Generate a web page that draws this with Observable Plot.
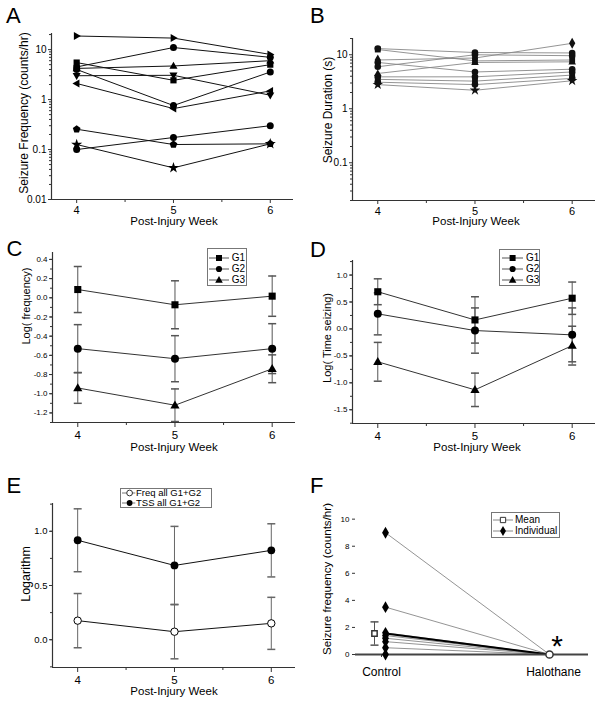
<!DOCTYPE html>
<html><head><meta charset="utf-8">
<script src="https://cdn.jsdelivr.net/npm/d3@7"></script>
<script src="https://cdn.jsdelivr.net/npm/@observablehq/plot@0.6"></script>
<style>
html,body{margin:0;padding:0;background:#fff;}
#fig{position:relative;width:602px;height:704px;overflow:hidden;font-family:"Liberation Sans",Arial,sans-serif;color:#000;}
.panel{position:absolute;}
.letter{position:absolute;font-size:22px;line-height:22px;}
.lab{position:absolute;white-space:nowrap;line-height:1;transform:translate(-50%,-50%);}
.ylab{transform:translate(-50%,-50%) rotate(-90deg);}
.ltxt{position:absolute;white-space:nowrap;line-height:1;transform:translateY(-50%);}
.legend{position:absolute;border:1px solid #777;background:#fff;box-sizing:border-box;}
</style></head><body><div id="fig"></div>
<script>
// ---------------- DATA ----------------
const weeks = [4, 5, 6];
const weekMinorTicks = [4.5, 5.5];

// Panel A: seizure frequency (counts/hr), individual animals, weeks 4-6
const freqIndividual = [
  [18.7, 17, 8],
  [4.5, 11, 7],
  [4.2, 4.7, 6],
  [3.0, 3.06, 1.22],
  [5.5, 2.43, 5.0],
  [4.0, 0.76, 3.56],
  [2.1, 0.66, 1.49],
  [0.255, 0.126, 0.13],
  [0.1, 0.174, 0.3],
  [0.126, 0.043, 0.13]
];
const aYTicks = [0.01, 0.1, 1, 10];

// Panel B: seizure duration (s), individual animals
const durIndividual = [
  [13, 11, 10.8],
  [12.5, 7.7, 8],
  [8, 8.7, 16.3],
  [7.2, 4.8, 5.4],
  [6.0, 10, 9.6],
  [4.5, 7.2, 7.4],
  [3.9, 3.9, 4.8],
  [3.5, 3.25, 4.2],
  [3.1, 2.8, 3.65],
  [2.8, 2.2, 3.3]
];
const bYTicks = [0.1, 1, 10];

// Panel C: log(frequency) by group, mean and error
const groups = ["G1", "G2", "G3"];
const logFreqMean = [[0.086, -0.073, 0.017], [-0.53, -0.635, -0.53], [-0.94, -1.12, -0.74]];
const logFreqErr  = [[0.24, 0.25, 0.21], [0.25, 0.24, 0.26], [0.16, 0.17, 0.145]];
const cYTicks = [-1.2, -1.0, -0.8, -0.6, -0.4, -0.2, 0.0, 0.2, 0.4];

// Panel D: log(time seizing) by group
const logTimeMean = [[0.69, 0.167, 0.57], [0.28, -0.03, -0.11], [-0.61, -1.13, -0.31]];
const logTimeErr  = [[0.24, 0.43, 0.30], [0.39, 0.42, 0.50], [0.36, 0.31, 0.36]];
const dYTicks = [-1.5, -1.0, -0.5, 0.0, 0.5, 1.0];

// Panel E: logarithm, all G1+G2
const eSeries = ["Freq all G1+G2", "TSS all G1+G2"];
const eMean = [[0.176, 0.074, 0.151], [0.917, 0.685, 0.824]];
const eErr  = [[0.25, 0.25, 0.24], [0.29, 0.36, 0.245]];
const eYTicks = [0.0, 0.5, 1.0];

// Panel F: control vs halothane
const conditions = ["Control", "Halothane"];
const controlIndividual = [9, 3.5, 1.6, 1.4, 1.2, 0.95, 0.5, 0];
const halothaneIndividual = [0, 0, 0, 0, 0, 0, 0, 0];
const meanFreq = [1.55, 0];
const meanErr = [0.86, 0];
const fYTicks = [0, 2, 4, 6, 8, 10];
const fLegend = ["Mean", "Individual"];

// ---------------- STYLE / HELPERS ----------------
const FONT = '"Liberation Sans", Arial, sans-serif';
const STYLE = {fontFamily: FONT, background: "transparent", overflow: "visible", color: "#000"};
const AX = "#333";
const fig = document.getElementById("fig");

function polySymbol(points) {
  return {draw(ctx, size) {
    const r = Math.sqrt(size / Math.PI);
    points.forEach(([px, py], i) => i ? ctx.lineTo(px * r, py * r) : ctx.moveTo(px * r, py * r));
    ctx.closePath();
  }};
}
const triRight = polySymbol([[1.2, 0], [-0.8, -1.15], [-0.8, 1.15]]);
const triLeft = polySymbol([[-1.2, 0], [0.8, -1.15], [0.8, 1.15]]);
const triDown = polySymbol([[0, 1.2], [-1.15, -0.8], [1.15, -0.8]]);
const triUp = polySymbol([[0, -1.2], [-1.15, 0.8], [1.15, 0.8]]);
const pentagon = polySymbol([0, 1, 2, 3, 4].map(i => [Math.sin(i * 2 * Math.PI / 5) * 1.15, -Math.cos(i * 2 * Math.PI / 5) * 1.15]));
const capSym = {draw(ctx, size) { const r = Math.sqrt(size / Math.PI); ctx.moveTo(-r, 0); ctx.lineTo(r, 0); }};

function addPlot(plot, left, top) {
  const d = document.createElement("div");
  d.className = "panel"; d.style.left = left + "px"; d.style.top = top + "px";
  d.appendChild(plot); fig.appendChild(d);
}
function addText(text, cx, cy, size, cls = "lab") {
  const d = document.createElement("div");
  d.className = cls; d.textContent = text;
  d.style.left = cx + "px"; d.style.top = cy + "px"; d.style.fontSize = size + "px";
  fig.appendChild(d); return d;
}
function addLetter(t, left, top) {
  const d = document.createElement("div");
  d.className = "letter"; d.textContent = t;
  d.style.left = left + "px"; d.style.top = top + "px"; fig.appendChild(d);
}
function legendBox(box, rows, o) {
  const div = document.createElement("div");
  div.className = "legend";
  Object.assign(div.style, {left: box.x + "px", top: box.y + "px", width: box.w + "px", height: box.h + "px"});
  fig.appendChild(div);
  rows.forEach(r => {
    const w = o.x2 - o.x1;
    const svg = d3.create("svg").attr("width", w + 10).attr("height", 14)
      .style("position", "absolute").style("left", (o.x1 - 5) + "px").style("top", (r.y - 7) + "px").style("overflow", "visible");
    svg.append("line").attr("x1", 5).attr("x2", w + 5).attr("y1", 7).attr("y2", 7).attr("stroke", r.line).attr("stroke-width", 1);
    svg.append("path").attr("d", d3.symbol(r.symbol, r.size)()).attr("transform", `translate(${o.xm - o.x1 + 5},7)`)
      .attr("fill", r.fill).attr("stroke", r.stroke);
    fig.appendChild(svg.node());
    addText(r.label, o.xt, r.y, o.fs, "ltxt");
  });
}

function weekAxes(xDomain, yDomain, yTicks, yMinor, yFmt, yFont, xFont, xTick, xPad) {
  return [
    Plot.axisY({ticks: yMinor, tickSize: 2, tickFormat: () => "", stroke: AX, label: null}),
    Plot.axisY({ticks: yTicks, tickSize: 3, tickPadding: 2, tickFormat: yFmt, fontSize: yFont, stroke: AX, label: null}),
    Plot.axisX({ticks: weekMinorTicks, tickSize: 3, tickFormat: () => "", stroke: AX, label: null}),
    Plot.axisX({ticks: weeks, tickSize: xTick, tickPadding: xPad, tickFormat: d => String(d), fontSize: xFont, stroke: AX, label: null}),
    Plot.ruleX([xDomain[0]], {stroke: AX, strokeWidth: 1.2}),
    Plot.ruleY([yDomain[0]], {stroke: AX, strokeWidth: 1.2})
  ];
}
function logMinor(domain) {
  const out = [];
  for (let e = -3; e <= 2; e++) for (let m = 2; m <= 9; m++) {
    const v = m * Math.pow(10, e);
    if (v >= domain[0] && v <= domain[1]) out.push(v);
  }
  return out;
}
function stepMinor(domain, step) {
  const out = [];
  for (let v = Math.ceil(domain[0] / step) * step; v <= domain[1] + 1e-9; v += step) out.push(+v.toFixed(4));
  return out;
}

// ---------------- PANEL A ----------------
const aSymbols = [triRight, d3.symbolCircle, triUp, triDown, d3.symbolSquare, d3.symbolCircle, triLeft, pentagon, d3.symbolCircle, d3.symbolStar];
const aRows = freqIndividual.flatMap((vals, s) => vals.map((v, j) => ({series: s, week: weeks[j], value: v})));
const aX = [3.74, 6.24], aY = [0.01, 21];
addPlot(Plot.plot({
  width: 300, height: 235, marginLeft: 51, marginRight: 7, marginTop: 33, marginBottom: 36,
  style: STYLE, x: {domain: aX}, y: {type: "log", domain: aY},
  marks: [
    Plot.line(aRows, {x: "week", y: "value", z: "series", stroke: "#111", strokeWidth: 1}),
    ...aSymbols.map((sy, s) => Plot.dot(aRows.filter(d => d.series === s), {x: "week", y: "value", symbol: sy, r: 3.5, fill: "#000", stroke: "none"})),
    ...weekAxes(aX, aY, aYTicks, logMinor(aY), d => String(d), 10, 11, 4, 2.5)
  ]
}), 0, 0);

// ---------------- PANEL B ----------------
const bSymbols = [d3.symbolCircle, d3.symbolSquare, d3.symbolDiamond, d3.symbolCircle, d3.symbolCircle, triUp, d3.symbolCircle, d3.symbolSquare, d3.symbolCircle, d3.symbolStar];
const bRows = durIndividual.flatMap((vals, s) => vals.map((v, j) => ({series: s, week: weeks[j], value: v})));
const bX = [3.74, 6.24], bY = [0.02, 20];
addPlot(Plot.plot({
  width: 302, height: 235, marginLeft: 52, marginRight: 7, marginTop: 38, marginBottom: 35,
  style: STYLE, x: {domain: bX}, y: {type: "log", domain: bY},
  marks: [
    Plot.line(bRows, {x: "week", y: "value", z: "series", stroke: "#888", strokeWidth: 0.9}),
    ...bSymbols.map((sy, s) => Plot.dot(bRows.filter(d => d.series === s), {x: "week", y: "value", symbol: sy, r: 3.3, fill: "#111", stroke: "none"})),
    ...weekAxes(bX, bY, bYTicks, logMinor(bY), d => String(d), 10, 11, 4, 2.5)
  ]
}), 300, 0);

// ---------------- PANELS C, D (group means) ----------------
const groupSymbols = [d3.symbolSquare, d3.symbolCircle, triUp];
function groupPanel(means, errs, xDom, yDom, yTicks, minorStep) {
  const rows = groups.flatMap((g, i) => weeks.map((w, j) => ({group: g, gi: i, week: w, mean: means[i][j], err: errs[i][j]})));
  return Plot.plot({
    width: 300, height: 235, marginLeft: 52, marginRight: 5, marginTop: yDom.mt, marginBottom: yDom.mb,
    style: STYLE, x: {domain: xDom}, y: {domain: yDom.d},
    marks: [
      Plot.ruleX(rows, {x: "week", y1: d => d.mean - d.err, y2: d => d.mean + d.err, stroke: "#555", strokeWidth: 1}),
      Plot.dot(rows, {x: "week", y: d => d.mean + d.err, symbol: capSym, r: 4, fill: "none", stroke: "#555"}),
      Plot.dot(rows, {x: "week", y: d => d.mean - d.err, symbol: capSym, r: 4, fill: "none", stroke: "#555"}),
      Plot.line(rows, {x: "week", y: "mean", z: "group", stroke: "#333", strokeWidth: 1}),
      ...groupSymbols.map((sy, i) => Plot.dot(rows.filter(d => d.gi === i), {x: "week", y: "mean", symbol: sy, r: 4, fill: "#000", stroke: "none"})),
      ...weekAxes(xDom, yDom.d, yTicks, stepMinor(yDom.d, minorStep), d => d.toFixed(1), 8, 11.5, 5, 3)
    ]
  });
}
addPlot(groupPanel(logFreqMean, logFreqErr, [3.74, 6.24], {d: [-1.3, 0.472], mt: 17, mb: 48}, cYTicks, 0.1), 0, 235);
addPlot(groupPanel(logTimeMean, logTimeErr, [3.74, 6.24], {d: [-1.755, 1.27], mt: 25, mb: 47}, dYTicks, 0.25), 300, 235);

// ---------------- PANEL E ----------------
const eRows = eSeries.flatMap((s, i) => weeks.map((w, j) => ({series: s, si: i, week: w, mean: eMean[i][j], err: eErr[i][j]})));
const eX = [3.74, 6.25], eY = [-0.256, 1.256];
addPlot(Plot.plot({
  width: 300, height: 234, marginLeft: 52, marginRight: 5, marginTop: 33, marginBottom: 37,
  style: STYLE, x: {domain: eX}, y: {domain: eY},
  marks: [
    Plot.ruleX(eRows, {x: "week", y1: d => d.mean - d.err, y2: d => d.mean + d.err, stroke: "#666", strokeWidth: 1}),
    Plot.dot(eRows, {x: "week", y: d => d.mean + d.err, symbol: capSym, r: 4, fill: "none", stroke: "#666"}),
    Plot.dot(eRows, {x: "week", y: d => d.mean - d.err, symbol: capSym, r: 4, fill: "none", stroke: "#666"}),
    Plot.line(eRows, {x: "week", y: "mean", z: "series", stroke: "#111", strokeWidth: 1}),
    Plot.dot(eRows.filter(d => d.si === 0), {x: "week", y: "mean", r: 3.7, fill: "#fff", stroke: "#000", strokeWidth: 1}),
    Plot.dot(eRows.filter(d => d.si === 1), {x: "week", y: "mean", r: 3.9, fill: "#000", stroke: "none"}),
    ...weekAxes(eX, eY, eYTicks, stepMinor(eY, 0.25), d => d.toFixed(1), 9.5, 11.5, 5, 3)
  ]
}), 0, 470);

// ---------------- PANEL F ----------------
const fRows = controlIndividual.map((v, i) => ({id: i, control: v, halothane: halothaneIndividual[i]}));
const fMean = conditions.map((c, i) => ({cond: c, mean: meanFreq[i], err: meanErr[i]}));
const fY = [0, 10.27];
addPlot(Plot.plot({
  width: 302, height: 234, marginLeft: 55, marginRight: 14, marginTop: 45, marginBottom: 50,
  style: STYLE,
  x: {type: "point", domain: conditions, range: [85, 249.3], padding: 0},
  y: {domain: fY},
  marks: [
    Plot.link(fRows, {x1: () => conditions[0], x2: () => conditions[1], y1: "control", y2: "halothane", stroke: "#888", strokeWidth: 0.9}),
    Plot.link([fMean], {x1: () => conditions[0], x2: () => conditions[1], y1: d => d[0].mean, y2: d => d[1].mean, stroke: "#000", strokeWidth: 2}),
    Plot.ruleY([fY[0]], {stroke: "#444", strokeWidth: 2}),
    Plot.ruleX(fMean.filter(d => d.err > 0), {x: "cond", dx: -11, y1: d => d.mean - d.err, y2: d => d.mean + d.err, stroke: "#555"}),
    Plot.dot(fMean.filter(d => d.err > 0), {x: "cond", dx: -11, y: d => d.mean + d.err, symbol: capSym, r: 4, fill: "none", stroke: "#555"}),
    Plot.dot(fMean.filter(d => d.err > 0), {x: "cond", dx: -11, y: d => d.mean - d.err, symbol: capSym, r: 4, fill: "none", stroke: "#555"}),
    Plot.dot(fRows, {x: () => conditions[0], y: "control", symbol: "diamond", r: 3.6, fill: "#000", stroke: "none"}),
    Plot.dot(fMean.slice(0, 1), {x: "cond", dx: -11, y: "mean", symbol: "square", r: 3, fill: "#fff", stroke: "#333"}),
    Plot.dot(fMean.slice(1), {x: "cond", y: "mean", r: 3.6, fill: "#fff", stroke: "#333"}),
    Plot.axisY({ticks: fYTicks, tickSize: 3, tickPadding: 3, tickFormat: d => String(d), fontSize: 8, stroke: AX, label: null}),
    Plot.axisX({ticks: conditions.slice(0, 1), dx: -4, tickSize: 3, tickPadding: 10, fontSize: 12, stroke: AX, label: null}),
    Plot.axisX({ticks: conditions.slice(1), dx: 4, tickSize: 0, tickPadding: 13, fontSize: 12, stroke: AX, label: null})
  ]
}), 300, 470);

// ---------------- TEXT: letters, axis titles ----------------
addLetter("A", 6, 5); addLetter("B", 310, 5);
addLetter("C", 6.5, 238); addLetter("D", 310, 238.5);
addLetter("E", 6.5, 475); addLetter("F", 310, 475);

addText("Seizure Frequency (counts/hr)", 24, 112.5, 12, "lab ylab");
addText("Seizure Duration (s)", 328, 110, 12, "lab ylab");
addText("Log( frequency)", 26, 306, 11, "lab ylab");
addText("Log( Time seizing)", 326.7, 338, 11, "lab ylab");
addText("Logarithm", 26, 574, 12.5, "lab ylab");
addText("Seizure frequency (counts/hr)", 326.7, 579, 11.6, "lab ylab");

addText("Post-Injury Week", 174, 222, 11.5);
addText("Post-Injury Week", 476, 222, 11.5);
addText("Post-Injury Week", 174, 447.5, 11.5);
addText("Post-Injury Week", 477, 447.5, 11.5);
addText("Post-Injury Week", 174, 691.7, 11.5);

addText("*", 557, 645.7, 30);

// ---------------- LEGENDS ----------------
legendBox({x: 206.7, y: 248.3, w: 40, h: 37.4},
  groups.map((g, i) => ({label: g, y: [258.3, 269.3, 280][i], symbol: groupSymbols[i], size: [36, 30, 34][i], fill: "#000", stroke: "none", line: "#555"})),
  {x1: 209.3, x2: 229.3, xm: 219.3, xt: 231.7, fs: 10});
legendBox({x: 499.3, y: 249.3, w: 40.7, h: 36.7},
  groups.map((g, i) => ({label: g, y: [258.3, 269.3, 280][i], symbol: groupSymbols[i], size: [36, 30, 34][i], fill: "#000", stroke: "none", line: "#555"})),
  {x1: 501.7, x2: 522.7, xm: 512.3, xt: 526, fs: 10});
legendBox({x: 120, y: 488.3, w: 92, h: 19.5},
  eSeries.map((s, i) => ({label: s, y: [493.2, 503][i], symbol: d3.symbolCircle, size: 26, fill: i ? "#000" : "#fff", stroke: i ? "none" : "#333", line: "#777"})),
  {x1: 121.7, x2: 135, xm: 129.3, xt: 136, fs: 9.5});
legendBox({x: 491, y: 511.7, w: 69, h: 26},
  fLegend.map((s, i) => ({label: s, y: [520, 531][i], symbol: i ? d3.symbolDiamond : d3.symbolSquare, size: i ? 30 : 28, fill: i ? "#000" : "#fff", stroke: i ? "none" : "#333", line: "#888"})),
  {x1: 493.3, x2: 513.3, xm: 503.3, xt: 515, fs: 10});
</script></body></html>
